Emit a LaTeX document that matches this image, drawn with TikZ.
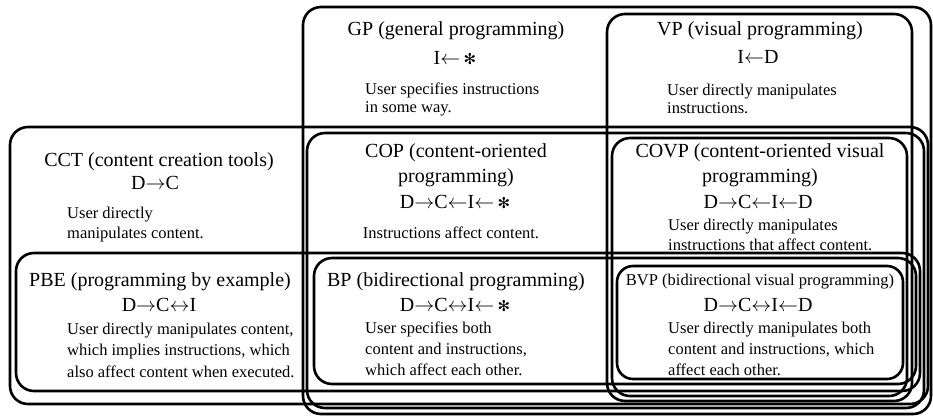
\RequirePackage{fix-cm}
\documentclass[tikz,border=0pt]{standalone}
\usepackage{fontspec}
\setmainfont{Liberation Serif}
\newfontfamily\symfont{DejaVu Sans}
\newcommand{\anyin}{\,{\symfont\fontsize{15}{15}\selectfont ✻}}
\newcommand{\myR}{$\rightarrow$}
\newcommand{\myL}{$\leftarrow$}
\newcommand{\myLR}{$\leftrightarrow$}
\begin{document}
\begin{tikzpicture}[x=1pt,y=-1pt,
  setbox/.style={draw=black, line width=2.6pt, rounded corners=18pt},
  ttl/.style={font=\fontsize{20}{25}\selectfont, inner sep=0pt, align=center},
  frm/.style={font=\fontsize{20}{25}\selectfont, inner sep=0pt},
  bdy/.style={font=\fontsize{16.5}{#1}\selectfont, inner sep=0pt, align=left, anchor=west},
  bdy/.default=20]
\fill[white] (0,0) rectangle (933,418);
\useasboundingbox (0,0) rectangle (933,418);
% sets
\draw[setbox] (303,7) rectangle (931,414);   % GP
\draw[setbox] (607,14) rectangle (912,401);  % VP
\draw[setbox] (10,127) rectangle (928,404);  % CCT
\draw[setbox] (307,133) rectangle (924,408); % COP
\draw[setbox] (612,138) rectangle (907,396); % COVP
\draw[setbox] (16,253) rectangle (920,391);  % PBE
\draw[setbox] (314,258) rectangle (916,384); % BP
\draw[setbox, rounded corners=16pt] (617,266) rectangle (903,379); % BVP
% GP
\node[ttl] (gpT) at (456,31) {GP (general programming)};
\node[frm] (gpF) at (455,58) {I\myL\anyin};
\node[bdy=18] (gpB) at (365,99) {User specifies instructions\\in some way.};
% VP
\node[ttl] (vpT) at (760,31) {VP (visual programming)};
\node[frm] (vpF) at (758,57) {I\myL D};
\node[bdy=18] (vpB) at (667,99) {User directly manipulates\\instructions.};
% CCT
\node[ttl] (cctT) at (159,162) {CCT (content creation tools)};
\node[frm] (cctF) at (155,183) {D\myR C};
\node[bdy=20] (cctB) at (67,225) {User directly\\manipulates content.};
% COP
\node[ttl] (copT) at (456,165.5) {COP (content-oriented\\programming)};
\node[frm] (copF) at (455,202) {D\myR C\myL I\myL\anyin};
\node[inner sep=0pt, font=\fontsize{16.5}{20}\selectfont] (copB) at (451,233) {Instructions affect content.};
% COVP
\node[ttl] (covpT) at (760,165.5) {COVP (content-oriented visual\\programming)};
\node[frm] (covpF) at (758,202) {D\myR C\myL I\myL D};
\node[bdy=20] (covpB) at (668,235) {User directly manipulates\\instructions that affect content.};
% PBE
\node[ttl] (pbeT) at (160,282) {PBE (programming by example)};
\node[frm] (pbeF) at (159,305) {D\myR C\myLR I};
\node[bdy=21.5] (pbeB) at (67,350) {User directly manipulates content,\\which implies instructions, which\\also affect content when executed.};
% BP
\node[ttl] (bpT) at (456,282) {BP (bidirectional programming)};
\node[frm] (bpF) at (455,305) {D\myR C\myLR I\myL\anyin};
\node[bdy=21] (bpB) at (365,349) {User specifies both\\content and instructions,\\which affect each other.};
% BVP
\node[inner sep=0pt, font=\fontsize{16.5}{20}\selectfont] (bvpT) at (760,282) {BVP (bidirectional visual programming)};
\node[frm] (bvpF) at (758,305) {D\myR C\myLR I\myL D};
\node[bdy=21] (bvpB) at (668,349) {User directly manipulates both\\content and instructions, which\\affect each other.};
\end{tikzpicture}
\end{document}
